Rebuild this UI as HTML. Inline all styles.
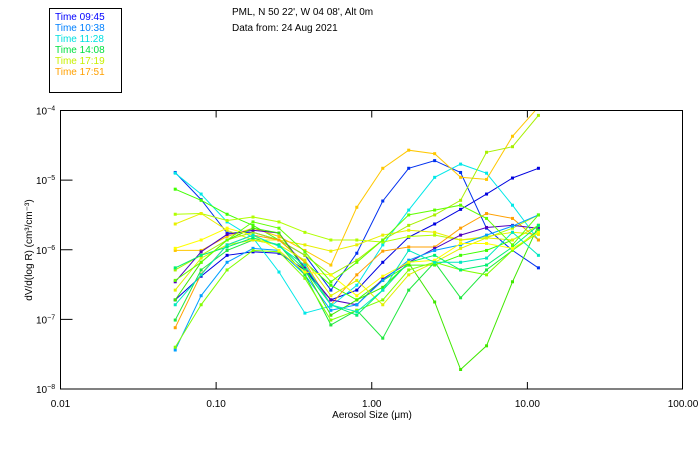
<!DOCTYPE html>
<html><head><meta charset="utf-8">
<style>
body{margin:0;background:#fff;width:700px;height:450px;overflow:hidden;font-family:"Liberation Sans",sans-serif;}
svg text{font-family:"Liberation Sans",sans-serif;}
</style></head>
<body>
<svg id="chart" width="700" height="450" viewBox="0 0 700 450">
  <rect x="0" y="0" width="700" height="450" fill="#fff"/>
  <g>
    <rect x="49.5" y="8.5" width="72" height="84" fill="#fff" stroke="#000" stroke-width="1"/>
    <text x="55" y="20" font-size="10" fill="#0000ff">Time 09:45</text>
    <text x="55" y="31" font-size="10" fill="#0080ff">Time 10:38</text>
    <text x="55" y="42" font-size="10" fill="#00e0e0">Time 11:28</text>
    <text x="55" y="53" font-size="10" fill="#00e040">Time 14:08</text>
    <text x="55" y="64" font-size="10" fill="#c8f000">Time 17:19</text>
    <text x="55" y="75" font-size="10" fill="#ffa000">Time 17:51</text>
  </g>
  <text x="232" y="15" font-size="10" fill="#000">PML, N 50 22', W 04 08', Alt 0m</text>
  <text x="232" y="31" font-size="10" fill="#000">Data from: 24 Aug 2021</text>
  <defs><clipPath id="plotclip"><rect x="60" y="110" width="623" height="279"/></clipPath></defs>
  <g id="axes"></g>
  <g id="series" clip-path="url(#plotclip)"></g>
  <rect x="60.5" y="110.5" width="622" height="278.5" fill="none" stroke="#000" stroke-width="1"/>
  <text transform="translate(32,250) rotate(-90)" text-anchor="middle" font-size="10" fill="#000">dV/d(log R) (cm³/cm⁻³)</text>
  <text x="372" y="418" text-anchor="middle" font-size="10" fill="#000">Aerosol Size (μm)</text>
</svg>
<script>
const xTickValues = [0.01, 0.1, 1, 10, 100];
const xTickLabels = ["0.01", "0.10", "1.00", "10.00", "100.00"];
const yTickExponents = [-4, -5, -6, -7, -8];
const sizes = [0.0546, 0.0801, 0.1176, 0.1726, 0.2534, 0.3720, 0.5461, 0.8017, 1.1769, 1.7277, 2.5362, 3.7231, 5.4655, 8.0233, 11.778];
const seriesColors = ["#0030f0","#0000e0","#00e8e8","#40ff00","#b0ff00","#e8f000","#ffc800","#a8f000","#ffa000","#5000c0","#00a0ff","#40e800","#20e840","#e0f000","#80ff00","#00f070","#ffff00","#00e8c0","#60ff00"];
// log10 of dV/d(logR) for each scan
const s1 = [-4.89,-5.28,-5.76,-5.75,-5.86,-6.08,-6.58,-6.05,-5.30,-4.83,-4.72,-4.89,-5.69,-6.01,-6.26];
const s2 = [-6.72,-6.38,-6.08,-6.03,-6.05,-6.29,-6.72,-6.58,-6.18,-5.82,-5.63,-5.42,-5.20,-4.97,-4.83];
const s3 = [-4.90,-5.20,-5.60,-5.83,-6.32,-6.91,-6.81,-6.51,-5.93,-5.43,-4.96,-4.77,-4.90,-5.36,-5.86];
const s4 = [-5.13,-5.29,-5.49,-5.65,-5.86,-6.18,-6.51,-6.72,-6.44,-6.22,-6.22,-6.08,-6.01,-5.86,-5.65];
const s5 = [-5.49,-5.48,-5.58,-5.53,-5.60,-5.75,-5.86,-5.86,-5.89,-5.81,-5.79,-5.86,-5.83,-5.69,-5.50];
const s6 = [-5.63,-5.48,-5.72,-5.86,-5.86,-5.93,-6.02,-5.93,-5.79,-5.72,-5.75,-5.86,-5.81,-5.75,-5.78];
const s7 = [-6.01,-6.01,-5.81,-5.69,-5.81,-6.01,-6.22,-5.39,-4.83,-4.57,-4.62,-4.96,-4.99,-4.37,-3.95];
const s8 = [-6.29,-6.08,-5.86,-5.75,-5.86,-6.08,-6.36,-6.15,-5.86,-5.65,-5.50,-5.29,-4.60,-4.52,-4.07];
const s9 = [-7.12,-6.35,-5.93,-5.79,-5.86,-6.18,-6.79,-6.36,-6.02,-5.96,-5.96,-5.69,-5.48,-5.55,-5.86];
const s10 = [-6.46,-6.03,-5.78,-5.72,-5.76,-6.26,-6.72,-6.79,-6.42,-6.18,-5.98,-5.79,-5.68,-5.65,-5.69];
const s11 = [-7.44,-6.66,-6.18,-5.98,-6.01,-6.36,-6.87,-6.79,-6.44,-6.15,-6.01,-5.93,-5.79,-5.66,-5.50];
const s12 = [-6.72,-6.18,-5.86,-5.69,-5.76,-6.29,-6.94,-6.72,-6.54,-6.19,-6.75,-7.72,-7.38,-6.46,-5.65];
const s13 = [-7.01,-6.29,-6.01,-5.86,-5.93,-6.36,-7.08,-6.87,-7.27,-6.58,-6.18,-6.69,-6.29,-6.01,-5.72];
const s14 = [-6.58,-6.12,-5.93,-5.86,-5.93,-6.15,-6.66,-6.44,-6.79,-6.36,-6.18,-5.98,-5.83,-5.86,-5.65];
const s15 = [-7.40,-6.79,-6.29,-6.01,-6.03,-6.41,-7.01,-6.87,-6.72,-6.29,-6.18,-6.29,-6.36,-6.01,-5.75];
const s16 = [-6.26,-6.08,-5.96,-5.83,-5.93,-6.29,-6.79,-6.94,-6.58,-6.18,-6.08,-6.29,-6.22,-5.96,-5.65];
const s17 = [-5.98,-5.86,-5.69,-5.79,-6.01,-6.32,-6.36,-6.66,-6.38,-6.18,-6.15,-5.91,-5.91,-5.98,-5.75];
const s18 = [-6.79,-6.36,-5.93,-5.79,-5.95,-6.22,-6.79,-6.89,-6.58,-6.01,-6.18,-6.18,-6.12,-5.75,-6.08];
const s19 = [-6.44,-6.18,-5.86,-5.60,-5.69,-6.03,-6.46,-6.18,-5.86,-5.50,-5.43,-5.36,-5.55,-5.93,-5.50];
const allSeries = [s1,s2,s3,s4,s5,s6,s7,s8,s9,s10,s11,s12,s13,s14,s15,s16,s17,s18,s19];

const NS = "http://www.w3.org/2000/svg";
const X0 = 60.5, X1 = 683, Y0 = 110.5, Y1 = 389;
function xScale(v){ return X0 + (Math.log10(v) + 2) / 4 * (X1 - X0); }
function yScale(e){ return Y0 + (-4 - e) / 4 * (Y1 - Y0); }
function mk(tag, attrs){ const el = document.createElementNS(NS, tag); for (const k in attrs) el.setAttribute(k, attrs[k]); return el; }

const axes = document.getElementById("axes");
xTickValues.forEach((v, i) => {
  const x = xScale(v);
  if (i > 0 && i < xTickValues.length - 1) {
    const t1 = mk("line", {x1:x, x2:x, y1:Y1, y2:Y1-7, stroke:"#000"});
    
    
    axes.appendChild(t1);
    const t2 = mk("line", {x1:x, x2:x, y1:Y0, y2:Y0+7, stroke:"#000"});
    
    
    axes.appendChild(t2);
  }
  const lab = mk("text", {x:x, y:407, "text-anchor":"middle", "font-size":"10", fill:"#000"});
  lab.textContent = xTickLabels[i];
  
  
  axes.appendChild(lab);
});
yTickExponents.forEach((e, i) => {
  const y = yScale(e);
  if (i > 0 && i < yTickExponents.length - 1) {
    const t = mk("line", {x1:X0, x2:X0+12, y1:y, y2:y, stroke:"#000"});
    
    
    axes.appendChild(t);
  }
  const lab = mk("text", {x:36, y:y+4, "font-size":"10", fill:"#000"});
  lab.textContent = "10";
  const sup = mk("tspan", {dy:"-4", "font-size":"7"});
  sup.textContent = String(e).replace("-", "−");
  lab.appendChild(sup);
  
  
  axes.appendChild(lab);
});

const sg = document.getElementById("series");
allSeries.forEach((s, si) => {
  const col = seriesColors[si % seriesColors.length];
  const pts = s.map((e, i) => xScale(sizes[i]).toFixed(1) + "," + yScale(e).toFixed(1)).join(" ");
  const pl = mk("polyline", {points:pts, fill:"none", stroke:col, "stroke-width":"1"});
  
  
  sg.appendChild(pl);
  s.forEach((e, i) => {
    const r = mk("rect", {x:xScale(sizes[i]) - 1.5, y:yScale(e) - 1.5, width:3, height:3, fill:col});
    
    
    sg.appendChild(r);
  });
});
</script>
</body></html>
